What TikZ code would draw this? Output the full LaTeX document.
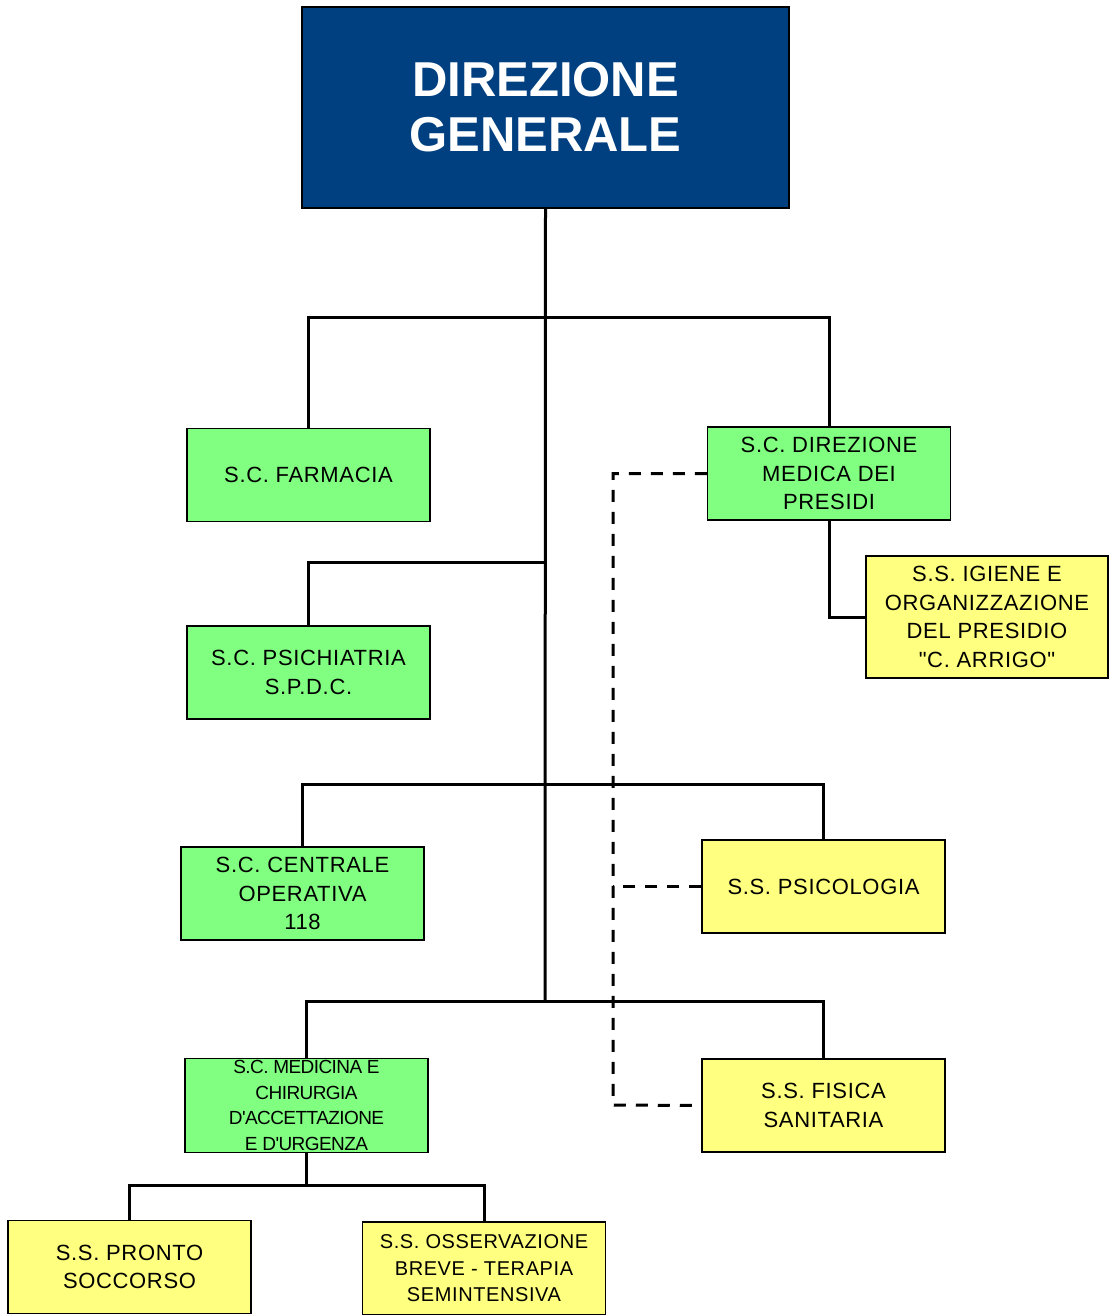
\documentclass[tikz,border=0pt]{standalone}
\usepackage{fontspec}
\setmainfont{Liberation Sans}
\usepackage{tikz}
\definecolor{dgblue}{RGB}{0,64,128}
\definecolor{scgreen}{RGB}{128,255,128}
\definecolor{ssyellow}{RGB}{255,255,128}
\newfontfamily\boxfont[LetterSpace=3]{Liberation Sans}
\newfontfamily\tightfont[LetterSpace=-3]{Liberation Sans}

\begin{document}
\begin{tikzpicture}[x=1pt,y=-1pt,
    box/.style={draw=black,line width=1.5pt,inner sep=2pt,align=center,
      minimum width=243pt,minimum height=93pt,
      font=\boxfont\fontsize{22}{28.5}\selectfont},
    sc/.style={box,fill=scgreen},
    ss/.style={box,fill=ssyellow},
    link/.style={line width=3pt},
    dotlink/.style={line width=3pt,dash pattern=on 12pt off 10pt}]
    \useasboundingbox (0,0) rectangle (1109,1315);
    % Direzione generale
    \node[box,fill=dgblue,text=white,minimum width=487pt,minimum height=201pt,
      font=\bfseries\fontsize{49}{56}\selectfont] (dg) at (545.5,107.5)
      {DIREZIONE\\[-1pt]GENERALE};
    % strutture complesse
    \node[sc] (farmacia) at (308.5,475) {S.C. FARMACIA};
    \node[sc] (dirmed) at (829,473.5) {S.C. DIREZIONE\\MEDICA DEI\\PRESIDI};
    \node[sc] (psichiatria) at (308.5,672.5) {S.C. PSICHIATRIA\\S.P.D.C.};
    \node[sc] (centrale) at (302.5,893.5) {S.C. CENTRALE\\OPERATIVA\\118};
    \node[sc,font=\tightfont\fontsize{19}{25.5}\selectfont] (medicina) at (306.5,1105.5)
      {S.C. MEDICINA E\\CHIRURGIA\\D'ACCETTAZIONE\\E D'URGENZA};
    % strutture semplici
    \node[ss,minimum width=242pt,minimum height=122pt] (igiene) at (987,617)
      {S.S. IGIENE E\\ORGANIZZAZIONE\\DEL PRESIDIO\\"C. ARRIGO"};
    \node[ss] (psicologia) at (823.5,886.5) {S.S. PSICOLOGIA};
    \node[ss] (fisica) at (823.5,1105.5) {S.S. FISICA\\SANITARIA};
    \node[ss] (pronto) at (129.5,1267) {S.S. PRONTO\\SOCCORSO};
    \node[ss,font=\boxfont\fontsize{20}{26.5}\selectfont] (osserv) at (484,1268.5)
      {S.S. OSSERVAZIONE\\BREVE - TERAPIA\\SEMINTENSIVA};

    \coordinate (j1) at (545,317);
    \coordinate (j2) at (545,562);
    \coordinate (j3) at (545,784);
    \coordinate (j4) at (545,1001);
    \coordinate (j5) at (306.5,1185);
    \coordinate (d1) at (613,1105);

    \draw[link] (dg.south) -- (j4);
    \draw[link] (farmacia.north) |- (j1) -| (dirmed.north);
    \draw[link] (psichiatria.north) |- (j2);
    \draw[link] (centrale.north) |- (j3) -| (psicologia.north);
    \draw[link] (medicina.north) |- (j4) -| (fisica.north);
    \draw[link] (medicina.south) -- (j5);
    \draw[link] (pronto.north) |- (j5) -| (osserv.north);
    \draw[link] (dirmed.south) |- (igiene.west);
    \draw[dotlink] (dirmed.west) -| (d1) -- (fisica.west);
    \draw[dotlink] (psicologia.west) -- (psicologia.west -| d1);
\end{tikzpicture}
\end{document}
